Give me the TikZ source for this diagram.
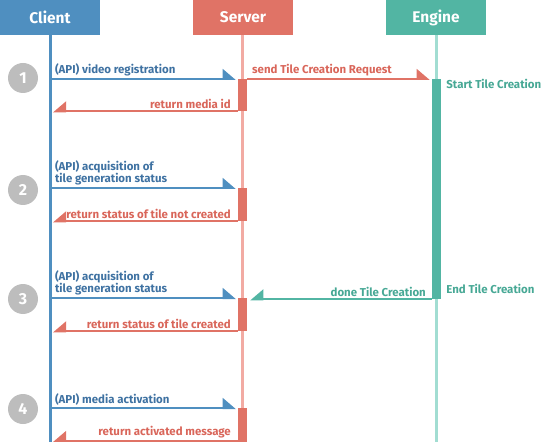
\documentclass[tikz,border=0pt]{standalone}
\usepackage{fontspec}
\setmainfont{Fira Sans}
\usetikzlibrary{arrows.meta, positioning}
\definecolor{clientblue}{HTML}{4F8FC0}
\definecolor{clienttext}{HTML}{3F72A2}
\definecolor{serverred}{HTML}{E07366}
\definecolor{servertext}{HTML}{D9665A}
\definecolor{serverline}{HTML}{F2ABA3}
\definecolor{enginegreen}{HTML}{52B5A3}
\definecolor{enginetext}{HTML}{47A895}
\definecolor{engineline}{HTML}{A2DDD2}
\definecolor{stepgrey}{HTML}{BDBDBD}

\tikzset{
  head/.style={fill=#1, text=white, minimum width=100bp, minimum height=35bp,
    inner sep=0pt, font=\fontsize{15.5}{18}\selectfont\bfseries},
  lifeline/.style={line width=3bp, #1},
  act/.style={fill=#1, minimum width=9bp, inner sep=0pt, anchor=north},
  msgR/.style={line width=2bp, #1, -{Triangle[left, length=12bp, width=20bp]}},
  msgL/.style={line width=2bp, #1, -{Triangle[right, length=12bp, width=20bp]}},
  lbl/.style={font=\fontsize{11.5}{12}\selectfont\bfseries, inner xsep=4bp, inner ysep=2bp, align=left},
  stepnum/.style={circle, fill=stepgrey, text=white, minimum size=30bp, inner sep=0pt,
    font=\fontsize{16}{18}\selectfont\bfseries}
}

\begin{document}
\begin{tikzpicture}[x=1bp, y=-1bp]
    \useasboundingbox (0,0) rectangle (547,442);

    % 参加者
    \node[head=clientblue] (client) at (50,17.5) {Client};
    \node[head=serverred] (server) at (243,17.5) {Server};
    \node[head=enginegreen] (engine) at (436,17.5) {Engine};

    \coordinate (cbot) at (50,442);
    \draw[lifeline=clientblue] (client.south) -- (cbot);
    \draw[lifeline=serverline] (server.south -| 242.5,0) -- (242.5,442);
    \draw[lifeline=engineline] (engine.south -| 436.5,0) -- (436.5,442);

    % アクティベーション
    \node[act=serverred, minimum height=32bp] (sa1) at (242.5,79) {};
    \node[act=enginegreen, minimum height=220bp] (ea1) at (436.5,79) {};
    \node[act=serverred, minimum height=33bp] (sa2) at (242.5,188) {};
    \node[act=serverred, minimum height=33bp] (sa3) at (242.5,298) {};
    \node[act=serverred, minimum height=34bp] (sa4) at (242.5,408) {};
    \coordinate (ret4) at (242.5,441);

    % 1
    \node[stepnum] (s1) at (23,78) {1};
    \draw[msgR=clientblue, shorten >=2bp] (client.south |- sa1.north) -- (sa1.north west)
        node[lbl, pos=0, anchor=south west, text=clienttext] {(API) video registration};
    \draw[msgR=serverred, shorten >=2bp] (sa1.north east) -- (ea1.north west)
        node[lbl, pos=0, anchor=south west, text=servertext] {send Tile Creation Request};
    \node[lbl, anchor=west, text=enginetext, inner xsep=5bp] (start) at ([yshift=-5bp]ea1.north east) {Start Tile Creation};
    \draw[msgL=serverred, shorten >=3bp] (sa1.south west) -- (client.south |- sa1.south)
        node[lbl, pos=0, anchor=south east, text=servertext, inner xsep=6bp] {return media id};

    % 2
    \node[stepnum] (s2) at (23,190) {2};
    \draw[msgR=clientblue, shorten >=2bp] (client.south |- sa2.north) -- (sa2.north west)
        node[lbl, pos=0, anchor=south west, text=clienttext] {(API) acquisition of\\tile generation status};
    \draw[msgL=serverred, shorten >=3bp] (sa2.south west) -- (client.south |- sa2.south)
        node[lbl, pos=0, anchor=south east, text=servertext, inner xsep=6bp] {return status of tile not created};

    % 3
    \node[stepnum] (s3) at (23,299) {3};
    \draw[msgR=clientblue, shorten >=2bp] (client.south |- sa3.north) -- (sa3.north west)
        node[lbl, pos=0, anchor=south west, text=clienttext] {(API) acquisition of\\tile generation status};
    \draw[msgL=enginegreen, shorten >=3bp] (ea1.south west) -- (sa3.north east |- ea1.south)
        node[lbl, pos=0, anchor=south east, text=enginetext, inner xsep=5bp] {done Tile Creation};
    \node[lbl, anchor=west, text=enginetext, inner xsep=5bp] (end) at ([yshift=10bp]ea1.south east) {End Tile Creation};
    \draw[msgL=serverred, shorten >=3bp] (sa3.south west) -- (client.south |- sa3.south)
        node[lbl, pos=0, anchor=south east, text=servertext, inner xsep=6bp] {return status of tile created};

    % 4
    \node[stepnum] (s4) at (23,409) {4};
    \draw[msgR=clientblue, shorten >=2bp] (client.south |- sa4.north) -- (sa4.north west)
        node[lbl, pos=0, anchor=south west, text=clienttext] {(API) media activation};
    \draw[msgL=serverred, shorten >=3bp] (sa4.west |- ret4) -- (client.south |- ret4)
        node[lbl, pos=0, anchor=south east, text=servertext, inner xsep=6bp] {return activated message};
\end{tikzpicture}
\end{document}
